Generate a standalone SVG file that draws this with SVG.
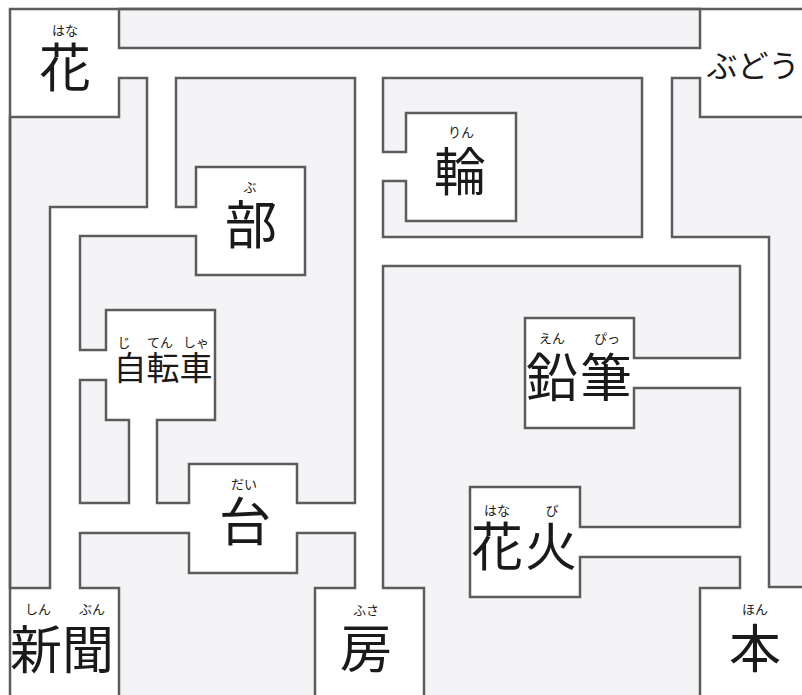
<svg xmlns="http://www.w3.org/2000/svg" width="802" height="695" viewBox="0 0 802 695">
<style>
.wall{fill:#f4f3f6;stroke:#5c5c5c;stroke-width:2.5;stroke-linejoin:miter}
.frame{fill:none;stroke:#5c5c5c;stroke-width:2.5}
.big{font-family:"Noto Sans CJK JP","Noto Sans",sans-serif;font-size:52px;fill:#1a1a1a;text-anchor:middle;dominant-baseline:central}
.mid{font-family:"Noto Sans CJK JP","Noto Sans",sans-serif;font-size:33px;fill:#1a1a1a;text-anchor:middle;dominant-baseline:central}
.kana{font-family:"Noto Sans CJK JP","Noto Sans",sans-serif;font-size:31px;fill:#1a1a1a;text-anchor:middle;dominant-baseline:central}
.ruby{font-family:"Noto Sans CJK JP","Noto Sans",sans-serif;font-size:13px;fill:#1a1a1a;text-anchor:middle;dominant-baseline:central}
</style>
<rect x="0" y="0" width="802" height="695" fill="#ffffff"/>
<g id="walls">
<polygon class="wall" points="119,9 700,9 700,48 119,48"/>
<polygon class="wall" points="10,117 119,117 119,78 147,78 147,207 50,207 50,588 10,588"/>
<polygon class="wall" points="157,503 157,420 215,420 215,310 106,310 106,350 80,350 80,236 196,236 196,275 305,275 305,167 196,167 196,207 176,207 176,78 355,78 355,503 297,503 297,464 189,464 189,503"/>
<polygon class="wall" points="80,380 106,380 106,420 129,420 129,503 80,503"/>
<polygon class="wall" points="80,533 189,533 189,573 297,573 297,533 355,533 355,588 315,588 315,700 119,700 119,588 80,588"/>
<polygon class="wall" points="383,78 642,78 642,237 383,237 383,181 406,181 406,221 516,221 516,113 406,113 406,152 383,152"/>
<polygon class="wall" points="672,78 700,78 700,117 806,117 806,587 769,587 769,237 672,237"/>
<polygon class="wall" points="383,266 740,266 740,358 634,358 634,318 525,318 525,428 634,428 634,388 740,388 740,527 580,527 580,487 470,487 470,597 580,597 580,557 740,557 740,588 700,588 700,700 424,700 424,588 383,588"/>
<polyline class="frame" points="10,700 10,9 806,9"/>
</g>
<g id="node-hana">
<text class="ruby" x="65" y="29">はな</text>
<text class="big" x="65" y="64">花</text>
</g>
<g id="node-budou">
<text class="kana" x="753" y="63">ぶどう</text>
</g>
<g id="node-rin">
<text class="ruby" x="461" y="131">りん</text>
<text class="big" x="460" y="168">輪</text>
</g>
<g id="node-bu">
<text class="ruby" x="250" y="186">ぶ</text>
<text class="big" x="251" y="221">部</text>
</g>
<g id="node-jitensha">
<text class="ruby" x="124" y="341">じ</text>
<text class="ruby" x="160" y="341">てん</text>
<text class="ruby" x="196" y="341">しゃ</text>
<text class="mid" x="163" y="366">自転車</text>
</g>
<g id="node-dai">
<text class="ruby" x="244" y="483">だい</text>
<text class="big" x="245" y="518">台</text>
</g>
<g id="node-shinbun">
<text class="ruby" x="38" y="608">しん</text>
<text class="ruby" x="92" y="608">ぶん</text>
<text class="big" x="62" y="646">新聞</text>
</g>
<g id="node-fusa">
<text class="ruby" x="366" y="609">ふさ</text>
<text class="big" x="366" y="645">房</text>
</g>
<g id="node-enpitsu">
<text class="ruby" x="552" y="337">えん</text>
<text class="ruby" x="607" y="337">ぴっ</text>
<text class="big" x="580" y="374" letter-spacing="2">鉛筆</text>
</g>
<g id="node-hanabi">
<text class="ruby" x="497" y="509">はな</text>
<text class="ruby" x="552" y="509">び</text>
<text class="big" x="525" y="543" letter-spacing="2">花火</text>
</g>
<g id="node-hon">
<text class="ruby" x="755" y="608">ほん</text>
<text class="big" x="755" y="645">本</text>
</g>
</svg>
